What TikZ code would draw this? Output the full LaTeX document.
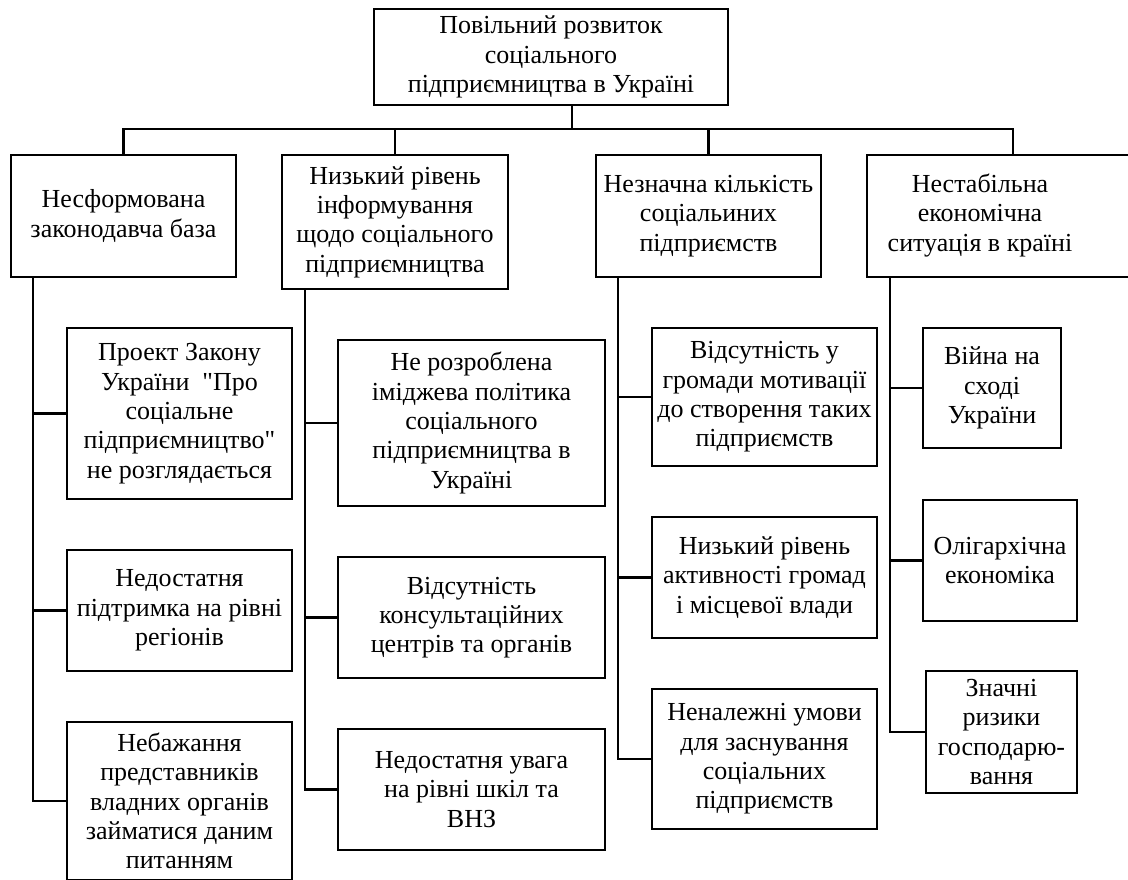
\documentclass[tikz,border=0pt]{standalone}
\usepackage{fontspec}
\setmainfont{Liberation Serif}[Ligatures=TeXOff]
\begin{document}
\begin{tikzpicture}[x=0.75pt, y=-0.75pt,
    boxStyle/.style 2 args={rectangle, draw, line width=1.6pt, align=center, inner sep=0pt,
        minimum width=#1*0.75pt, minimum height=#2*0.75pt,
        font=\fontsize{19.5}{22}\selectfont},
    lineStyle/.style={line width=1.6pt}]
    \useasboundingbox (0,0) rectangle (1128,879);
    \clip (0,0) rectangle (1128,879);
    % top
    \node[boxStyle={354}{96}] (root) at (551,57) {Повільний розвиток\\соціального\\підприємництва в Україні};
    % causes
    \node[boxStyle={225}{122}] (lvl_0) at (123.5,216) {Несформована\\законодавча база};
    \node[boxStyle={226}{134}] (lvl_1) at (395,222) {Низький рівень\\інформування\\щодо соціального\\підприємництва};
    \node[boxStyle={225}{122}] (lvl_2) at (708.5,216) {Незначна кількість\\соціальиних\\підприємств};
    \node[boxStyle={292}{122}] (lvl_3) at (1013,216) {\begin{tabular}{@{}c@{}}Нестабільна\\економічна\\ситуація в країні\end{tabular}\hspace*{49.5pt}};
    % column 0
    \node[boxStyle={225}{171}] (lvl_0_0) at (179.5,413.5) {Проект Закону\\України~~"Про\\соціальне\\підприємництво"\\не розглядається};
    \node[boxStyle={225}{121}] (lvl_0_1) at (179.5,610.5) {Недостатня\\підтримка на рівні\\регіонів};
    \node[boxStyle={225}{158}] (lvl_0_2) at (179.5,801) {Небажання\\представників\\владних органів\\займатися даним\\питанням};
    % column 1
    \node[boxStyle={267}{166}] (lvl_1_0) at (471.5,423) {Не розроблена\\іміджева політика\\соціального\\підприємництва в\\Україні};
    \node[boxStyle={267}{121}] (lvl_1_1) at (471.5,617.5) {Відсутність\\консультаційних\\центрів та органів};
    \node[boxStyle={267}{121}] (lvl_1_2) at (471.5,789.5) {Недостатня увага\\на рівні шкіл та\\ВНЗ};
    % column 2
    \node[boxStyle={225}{138}] (lvl_2_0) at (764.5,397) {Відсутність у\\громади мотивації\\до створення таких\\підприємств};
    \node[boxStyle={225}{121}] (lvl_2_1) at (764.5,577.5) {Низький рівень\\активності громад\\і місцевої влади};
    \node[boxStyle={225}{140}] (lvl_2_2) at (764.5,759) {Неналежні умови\\для заснування\\соціальних\\підприємств};
    % column 3
    \node[boxStyle={138}{120}] (lvl_3_0) at (992,388) {Війна на\\сході\\України};
    \node[boxStyle={154}{121}] (lvl_3_1) at (1000,560.5) {Олігархічна\\економіка};
    \node[boxStyle={151}{122}] (lvl_3_2) at (1001.5,732) {Значні\\ризики\\господарю-\\вання};
    % connectors
    \coordinate (bus) at (0,129);
    \coordinate (trunk_0) at (33,0);
    \coordinate (trunk_1) at (305,0);
    \coordinate (trunk_2) at (618,0);
    \coordinate (trunk_3) at (890,0);
    \draw[lineStyle] ([xshift=15.75pt]root.south) -- ([xshift=15.75pt]root.south |- bus);
    \draw[lineStyle] (lvl_0.north) -- (lvl_0.north |- bus) -| (lvl_3.north);
    \draw[lineStyle] (lvl_1.north) -- (lvl_1.north |- bus);
    \draw[lineStyle] (lvl_2.north) -- (lvl_2.north |- bus);
    \foreach \i in {0,...,3} {
        \draw[lineStyle] (lvl_\i.south -| trunk_\i) |- (lvl_\i_2.west);
        \foreach \j in {0,1}
            \draw[lineStyle] (lvl_\i_\j.west) -- (lvl_\i_\j.west -| trunk_\i);
    }
\end{tikzpicture}
\end{document}
